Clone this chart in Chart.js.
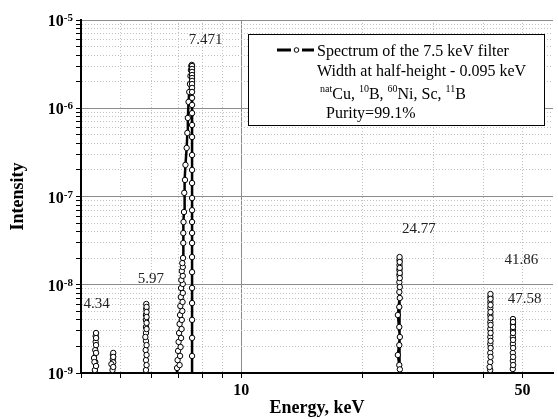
<!DOCTYPE HTML>
<html>

<head>
    <title>Spectrum of the 7.5 keV filter</title>
    <meta charset="utf-8">
    <script src="https://cdn.jsdelivr.net/npm/chart.js@4.4.0/dist/chart.umd.min.js"></script>
    <style>
        body {
            margin: 0;
            background: #fff;
        }

        #spectrum {
            display: block;
        }
    </style>
</head>

<body>
    <canvas id="spectrum" width="558" height="419"></canvas>

    <script>
        /* [energy keV, intensity] in drawing order.
           5e-10 = below the axis (line runs out of the frame) */
        var peak434 = [[4.33, 5e-10], [4.33, 1.08e-9], [4.34, 1.33e-9], [4.31, 1.48e-9], [4.34, 1.82e-9], [4.35, 2.25e-9],
            [4.35, 2.62e-9], [4.36, 2.84e-9], [4.36, 2.49e-9], [4.36, 2.07e-9], [4.36, 1.69e-9], [4.32, 1.33e-9],
            [4.36, 1.20e-9], [4.37, 5e-10]];

        var peak480 = [[4.79, 5e-10], [4.79, 1.08e-9], [4.80, 1.43e-9], [4.80, 1.60e-9], [4.81, 1.69e-9], [4.81, 1.52e-9],
            [4.81, 1.32e-9], [4.76, 1.26e-9], [4.81, 1.17e-9], [4.82, 5e-10]];

        var peak597 = [[5.79, 5e-10], [5.80, 1.08e-9], [5.80, 1.40e-9], [5.79, 1.82e-9], [5.80, 2.31e-9], [5.80, 2.84e-9],
            [5.80, 3.32e-9], [5.80, 3.99e-9], [5.80, 4.54e-9], [5.81, 5.31e-9], [5.81, 6.05e-9], [5.82, 5.60e-9],
            [5.82, 4.91e-9], [5.82, 4.31e-9], [5.82, 3.69e-9], [5.82, 3.15e-9], [5.78, 2.56e-9], [5.82, 2.07e-9],
            [5.82, 1.60e-9], [5.82, 1.23e-9], [5.83, 5e-10]];

        var peak7471 = [[6.91, 5e-10], [6.93, 1.14e-9], [7.03, 1.23e-9], [6.95, 1.40e-9], [7.05, 1.56e-9], [6.97, 1.78e-9],
            [7.07, 1.97e-9], [6.99, 2.25e-9], [7.09, 2.49e-9], [7.01, 2.84e-9], [7.11, 3.15e-9], [7.03, 3.59e-9],
            [7.12, 3.99e-9], [7.05, 4.54e-9], [7.14, 5.04e-9], [7.06, 5.74e-9], [7.15, 6.38e-9], [7.08, 7.26e-9],
            [7.16, 8.07e-9], [7.09, 9.18e-9], [7.16, 1.02e-8], [7.10, 1.13e-8], [7.16, 1.26e-8], [7.12, 1.43e-8],
            [7.16, 1.59e-8], [7.14, 1.76e-8], [7.17, 2.01e-8], [7.18, 2.97e-8], [7.18, 3.85e-8], [7.19, 5.14e-8],
            [7.21, 6.67e-8], [7.22, 1.10e-7], [7.25, 1.54e-7], [7.27, 2.28e-7], [7.32, 3.55e-7], [7.35, 5.25e-7],
            [7.37, 7.76e-7], [7.40, 1.18e-6], [7.43, 1.53e-6], [7.46, 1.88e-6], [7.48, 2.32e-6], [7.50, 2.71e-6],
            [7.52, 3.01e-6], [7.54, 3.10e-6],
            [7.55, 3.01e-6], [7.55, 2.79e-6], [7.55, 2.58e-6], [7.55, 2.38e-6], [7.55, 2.20e-6], [7.55, 2.04e-6],
            [7.55, 1.88e-6], [7.55, 1.70e-6], [7.55, 1.53e-6], [7.55, 1.31e-6], [7.55, 1.09e-6], [7.55, 8.8e-7],
            [7.55, 6.46e-7], [7.55, 4.72e-7], [7.55, 2.95e-7], [7.55, 2.0e-7], [7.55, 1.42e-7], [7.55, 9.6e-8],
            [7.55, 7.0e-8], [7.55, 5.14e-8], [7.55, 3.86e-8], [7.55, 2.97e-8], [7.55, 2.06e-8], [7.55, 1.39e-8],
            [7.55, 9.2e-9], [7.55, 6.2e-9], [7.55, 4.0e-9], [7.55, 2.5e-9], [7.55, 1.56e-9], [7.56, 5e-10]];

        var peak2477 = [[24.68, 5e-10], [24.70, 1.23e-9], [24.70, 2.07e-9], [24.70, 3.32e-9], [24.70, 5.60e-9],
            [24.71, 8.28e-9], [24.71, 1.07e-8], [24.72, 1.29e-8], [24.72, 1.47e-8], [24.73, 1.67e-8], [24.73, 1.91e-8],
            [24.74, 2.06e-8], [24.76, 1.81e-8], [24.76, 1.55e-8], [24.77, 1.36e-8], [24.77, 1.19e-8], [24.77, 9.43e-9],
            [24.77, 7.08e-9], [24.50, 4.54e-9], [24.78, 2.56e-9], [24.50, 1.60e-9], [24.78, 1.10e-9], [24.80, 5e-10]];

        var peak4186 = [[41.55, 5e-10], [41.55, 1.08e-9], [41.56, 1.33e-9], [41.56, 1.69e-9], [41.57, 2.13e-9],
            [41.57, 2.56e-9], [41.57, 3.15e-9], [41.58, 3.78e-9], [41.58, 4.54e-9], [41.58, 5.45e-9], [41.59, 6.38e-9],
            [41.59, 7.26e-9], [41.60, 7.85e-9], [41.62, 6.90e-9], [41.62, 5.90e-9], [41.62, 4.91e-9], [41.63, 4.20e-9],
            [41.63, 3.50e-9], [41.63, 2.84e-9], [41.64, 2.31e-9], [41.64, 1.92e-9], [41.64, 1.52e-9], [41.40, 1.17e-9],
            [41.66, 5e-10]];

        var peak4758 = [[47.28, 5e-10], [47.28, 1.11e-9], [47.29, 1.37e-9], [47.29, 1.69e-9], [47.30, 2.13e-9],
            [47.30, 2.56e-9], [47.31, 3.07e-9], [47.31, 3.59e-9], [47.32, 4.09e-9], [47.34, 3.78e-9], [47.34, 3.32e-9],
            [47.35, 2.84e-9], [47.35, 2.37e-9], [47.36, 1.92e-9], [47.36, 1.52e-9], [47.37, 1.23e-9], [47.38, 5e-10]];

        // peak annotations: text and [energy, intensity] of the text's left/middle
        var peakLabels = ['4.34', '5.97', '7.471', '24.77', '41.86', '47.58'];
        var peakLabelAt = [[4.06, 6.05e-9], [5.53, 1.16e-8], [7.41, 5.94e-6], [25.1, 4.29e-8], [45.1, 1.88e-8], [45.9, 6.9e-9]];

        // axes
        var xTicks = [4, 5, 6, 7, 8, 9, 10, 20, 30, 40, 50];
        var xLabelled = [10, 50];
        var yDecades = [-9, -8, -7, -6, -5];
        var xTitle = 'Energy, keV';
        var yTitle = 'Intensity';

        var legendLines = ['Spectrum of the 7.5 keV filter', 'Width at half-height - 0.095 keV', 'Purity=99.1%'];
        // [text, superscript?]
        var legendIsotopes = [['nat', 1], ['Cu, ', 0], ['10', 1], ['B, ', 0], ['60', 1], ['Ni, Sc, ', 0], ['11', 1], ['B', 0]];
    </script>

    <script>
        var SERIF = "'Liberation Serif', 'Times New Roman', serif";

        var spectrum = [].concat(peak434, peak480, peak597, peak7471, peak2477, peak4186, peak4758);

        var yTicks = [];
        yDecades.forEach(function (d, i) {
            var last = i === yDecades.length - 1;
            for (var m = 1; m <= (last ? 1 : 9); m++) yTicks.push(m * Math.pow(10, d));
        });

        function isDecade(v) {
            var l = Math.log10(v);
            return Math.abs(l - Math.round(l)) < 1e-6;
        }

        function gridColor(c) {
            return c.tick && isDecade(c.tick.value) ? '#8c8c8c' : '#c2c2c2';
        }

        function gridDash(c) {
            return c.tick && !isDecade(c.tick.value) ? [1, 2] : [];
        }

        var overlay = {
            id: 'overlay',
            afterDatasetsDraw: function (chart) {
                var ctx = chart.ctx;
                var xs = chart.scales.x, ys = chart.scales.y;
                ctx.save();

                // peak energies
                ctx.fillStyle = '#222';
                ctx.font = '15px ' + SERIF;
                ctx.textAlign = 'left';
                ctx.textBaseline = 'middle';
                peakLabels.forEach(function (t, i) {
                    ctx.fillText(t, xs.getPixelForValue(peakLabelAt[i][0]), ys.getPixelForValue(peakLabelAt[i][1]));
                });

                // y tick labels 10^n
                ctx.fillStyle = '#000';
                ctx.textAlign = 'right';
                ctx.textBaseline = 'alphabetic';
                yDecades.forEach(function (d) {
                    var py = ys.getPixelForValue(Math.pow(10, d));
                    var right = ys.right - 8;
                    ctx.font = 'bold 11px ' + SERIF;
                    ctx.fillText(String(d), right, py + 1);
                    var w = ctx.measureText(String(d)).width;
                    ctx.font = 'bold 16px ' + SERIF;
                    ctx.fillText('10', right - w, py + 6);
                });

                // legend box
                ctx.fillStyle = '#fff';
                ctx.fillRect(248, 34, 297, 91);
                ctx.strokeStyle = '#000';
                ctx.lineWidth = 1;
                ctx.strokeRect(248.5, 34.5, 296, 91);

                ctx.lineWidth = 3;
                ctx.beginPath();
                ctx.moveTo(277, 50);
                ctx.lineTo(291, 50);
                ctx.moveTo(302, 50);
                ctx.lineTo(314, 50);
                ctx.stroke();
                ctx.lineWidth = 1;
                ctx.beginPath();
                ctx.arc(296.5, 50, 2.3, 0, Math.PI * 2);
                ctx.fillStyle = '#fff';
                ctx.fill();
                ctx.stroke();

                ctx.fillStyle = '#000';
                ctx.textAlign = 'left';
                ctx.font = '16px ' + SERIF;
                ctx.fillText(legendLines[0], 317, 56);
                ctx.fillText(legendLines[1], 317, 75.5);
                ctx.fillText(legendLines[2], 326, 118);

                var lx = 320;
                legendIsotopes.forEach(function (s) {
                    ctx.font = (s[1] ? '10px ' : '16px ') + SERIF;
                    ctx.fillText(s[0], lx, s[1] ? 92 : 98.5);
                    lx += ctx.measureText(s[0]).width;
                });

                ctx.restore();
            }
        };

        new Chart(document.getElementById('spectrum'), {
            type: 'line',
            data: {
                datasets: [{
                    label: legendLines[0],
                    data: spectrum.map(function (p) { return { x: p[0], y: p[1] }; }),
                    borderColor: '#000',
                    borderWidth: 2.5,
                    borderJoinStyle: 'round',
                    borderCapStyle: 'round',
                    tension: 0,
                    fill: false,
                    pointRadius: 2.7,
                    pointBorderWidth: 1,
                    pointBackgroundColor: '#fff',
                    pointBorderColor: '#000',
                    clip: 0
                }]
            },
            options: {
                responsive: false,
                animation: false,
                devicePixelRatio: 1,
                layout: { padding: { top: 20, right: 0, bottom: 0, left: 0 } },
                plugins: {
                    legend: { display: false },
                    tooltip: { enabled: false }
                },
                scales: {
                    x: {
                        type: 'logarithmic',
                        min: 4,
                        max: 59.5,
                        afterBuildTicks: function (s) {
                            s.ticks = xTicks.map(function (v) { return { value: v }; });
                        },
                        afterFit: function (s) { s.height = 46; },
                        grid: { color: gridColor, lineWidth: 1, tickColor: '#000', tickLength: 5 },
                        border: { display: true, color: '#000', width: 2, dash: gridDash },
                        ticks: {
                            autoSkip: false,
                            maxRotation: 0,
                            padding: 3,
                            color: '#000',
                            font: { family: SERIF, size: 16, weight: 'bold' },
                            callback: function (v) { return xLabelled.indexOf(v) >= 0 ? String(v) : ''; }
                        },
                        title: {
                            display: true,
                            text: xTitle,
                            color: '#000',
                            font: { family: SERIF, size: 18, weight: 'bold' },
                            padding: { top: 0, bottom: 0 }
                        }
                    },
                    y: {
                        type: 'logarithmic',
                        min: 1e-9,
                        max: 1e-5,
                        afterBuildTicks: function (s) {
                            s.ticks = yTicks.map(function (v) { return { value: v }; });
                        },
                        afterFit: function (s) { s.width = 81; },
                        grid: { color: gridColor, lineWidth: 1, tickColor: '#000', tickLength: 5 },
                        border: { display: true, color: '#000', width: 2, dash: gridDash },
                        ticks: { display: false, autoSkip: false },
                        title: {
                            display: true,
                            text: yTitle,
                            color: '#000',
                            font: { family: SERIF, size: 18, weight: 'bold' },
                            padding: { top: 8, bottom: 0 }
                        }
                    }
                }
            },
            plugins: [overlay]
        });
    </script>
</body>

</html>
